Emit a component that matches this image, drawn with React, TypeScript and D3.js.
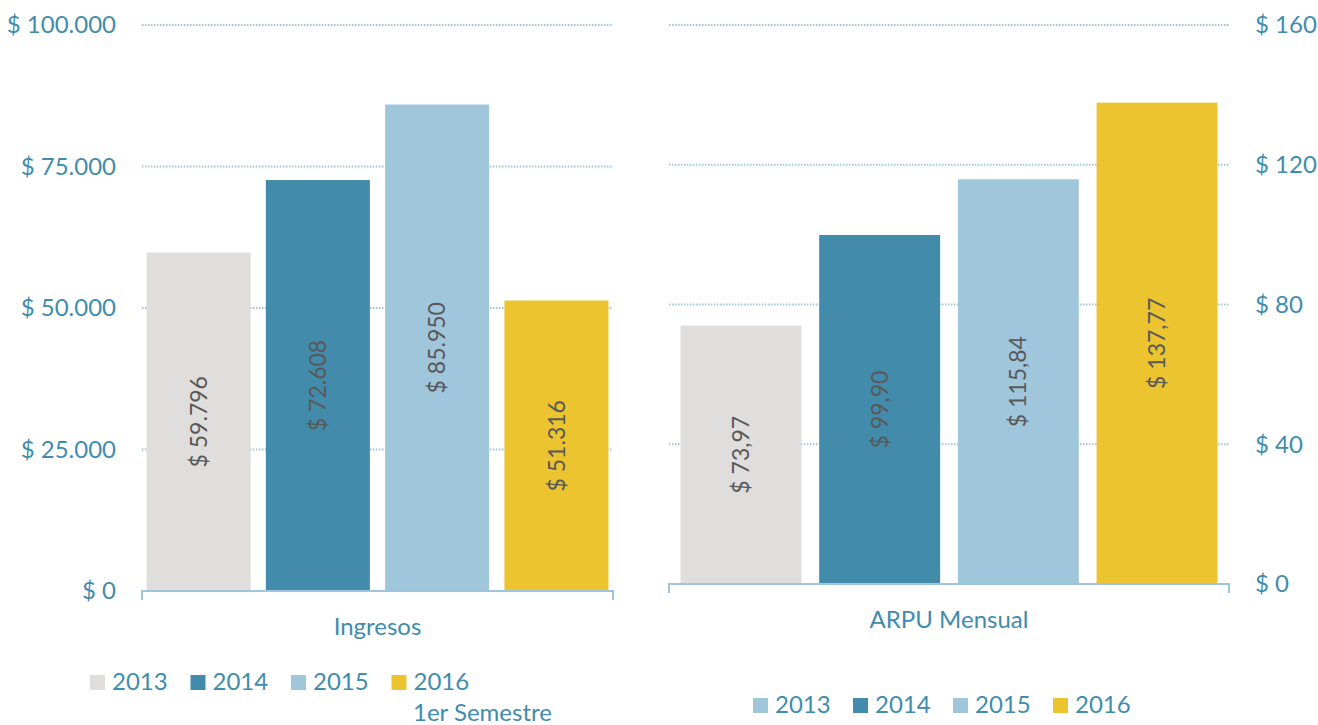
import { scaleBand, scaleLinear, formatLocale } from 'd3'

const years = ['2013', '2014', '2015', '2016']
const ingresos = [59796, 72608, 85950, 51316]
const arpu = [73.97, 99.9, 115.84, 137.77]
const ingresosTicks = [0, 25000, 50000, 75000, 100000]
const arpuTicks = [0, 40, 80, 120, 160]
const barColors = ['#dfdedc', '#428bab', '#a0c6dc', '#ecc430']
// the ARPU legend in the original shows 2013 with the 2015 swatch
const arpuLegendColors = ['#a0c6dc', '#428bab', '#a0c6dc', '#ecc430']

const es = formatLocale({ decimal: ',', thousands: '.', grouping: [3], currency: ['$ ', ''] })
const fmtInt = es.format(',.0f')
const fmt2 = es.format(',.2f')

const FONT = 'Lato, "Open Sans", sans-serif'
const TEAL = '#3f8cad'
const GRID = '#9fc5dc'
const FS = 24

type PanelProps = {
  values: number[]
  ticks: number[]
  x0: number
  x1: number
  yTop: number
  yBase: number
  padOuter: number
  tickSide: 'left' | 'right'
  tickX: number
  fmt: (v: number) => string
  label: string
}

function Panel({ values, ticks, x0, x1, yTop, yBase, padOuter, tickSide, tickX, fmt, label }: PanelProps) {
  const x = scaleBand<string>().domain(years).range([x0, x1]).paddingInner(0.128).paddingOuter(padOuter)
  const y = scaleLinear().domain([0, ticks[ticks.length - 1]]).range([yBase, yTop])
  return (
    <g>
      {ticks.filter(t => t > 0).map(t => (
        <line key={t} x1={x0} x2={x1} y1={y(t)} y2={y(t)} stroke={GRID} strokeWidth={1.8} strokeDasharray="1.5 1.5" />
      ))}
      {ticks.map(t => (
        <text key={t} x={tickX} y={y(t)} dy="0.35em" fill={TEAL} fontSize={FS}
          textAnchor={tickSide === 'left' ? 'end' : 'start'}>{'$ ' + fmt(t)}</text>
      ))}
      {values.map((v, i) => (
        <rect key={years[i]} x={x(years[i])} width={x.bandwidth()} y={y(v)} height={yBase - y(v)} fill={barColors[i]} />
      ))}
      {values.map((v, i) => {
        const cx = x(years[i])! + x.bandwidth() / 2
        const cy = (y(v) + yBase) / 2
        return (
          <text key={years[i]} transform={`translate(${cx},${cy}) rotate(-90)`} dy="0.35em"
            textAnchor="middle" fill="#595959" fontSize={23}>
            {'$ ' + (label === 'Ingresos' ? fmtInt(v) : fmt2(v))}
          </text>
        )
      })}
      <path d={`M${x0},${yBase + 9}V${yBase}H${x1}V${yBase + 9}`} fill="none" stroke={GRID} strokeWidth={2} />
      <text x={(x0 + x1) / 2} y={yBase + 36} dy="0.35em" textAnchor="middle" fill={TEAL} fontSize={FS}>{label}</text>
    </g>
  )
}

function Legend({ x, y, colors, step }: { x: number; y: number; colors: string[]; step: number }) {
  return (
    <g>
      {years.map((yr, i) => (
        <g key={yr} transform={`translate(${x + i * step},${y})`}>
          <rect x={0} y={-15} width={15} height={15} fill={colors[i]} />
          <text x={22} y={0} fill={TEAL} fontSize={FS}>{yr}</text>
        </g>
      ))}
    </g>
  )
}

export default function App() {
  return (
    <svg width={1318} height={725} style={{ position: 'absolute', left: 0, top: 0, fontFamily: FONT }}>
      <rect width={1318} height={725} fill="#fff" />
      <Panel values={ingresos} ticks={ingresosTicks} x0={142} x1={613} yTop={25} yBase={591}
        padOuter={0.038} tickSide="left" tickX={116} fmt={fmtInt} label="Ingresos" />
      <Panel values={arpu} ticks={arpuTicks} x0={669} x1={1229} yTop={25} yBase={584}
        padOuter={0.083} tickSide="right" tickX={1255} fmt={fmtInt} label="ARPU Mensual" />
      <Legend x={90} y={690} colors={barColors} step={100.5} />
      <text x={413} y={721} fill={TEAL} fontSize={FS}>1er Semestre</text>
      <Legend x={753} y={713} colors={arpuLegendColors} step={100} />
    </svg>
  )
}
